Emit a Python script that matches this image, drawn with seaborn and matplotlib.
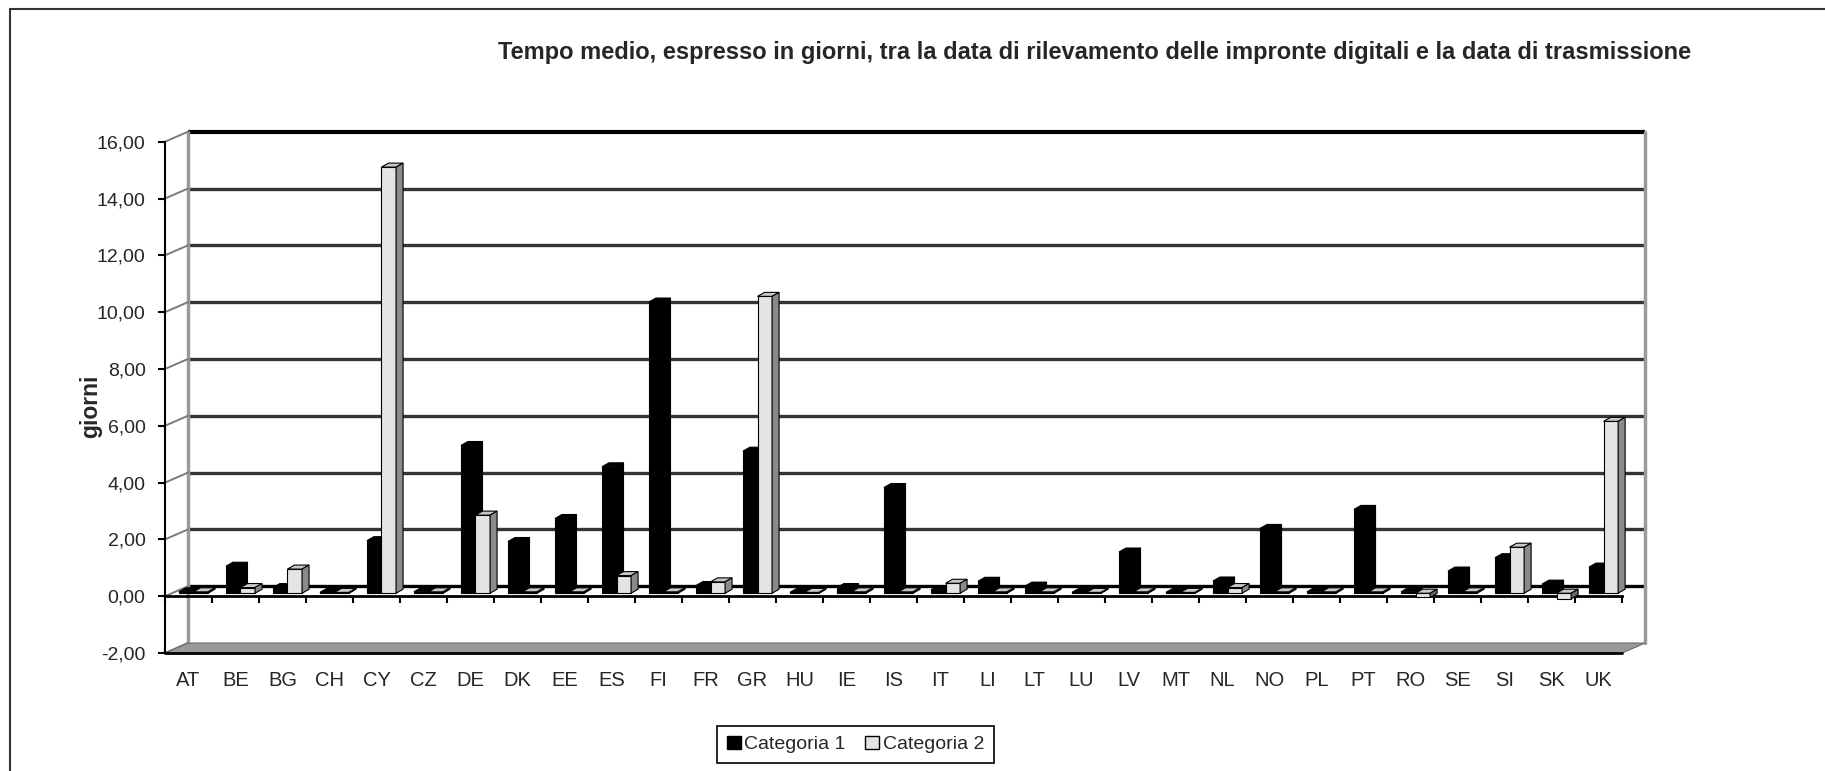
import numpy as np
import pandas as pd
import seaborn as sns
import matplotlib.pyplot as plt
import matplotlib.transforms as mtransforms
from matplotlib.patches import Polygon, Patch, Rectangle
from matplotlib.lines import Line2D

paesi = ['AT', 'BE', 'BG', 'CH', 'CY', 'CZ', 'DE', 'DK', 'EE', 'ES', 'FI',
         'FR', 'GR', 'HU', 'IE', 'IS', 'IT', 'LI', 'LT', 'LU', 'LV', 'MT',
         'NL', 'NO', 'PL', 'PT', 'RO', 'SE', 'SI', 'SK', 'UK']
categoria_1 = [0.05, 0.95, 0.20, 0.03, 1.85, 0.05, 5.20, 1.82, 2.63, 4.45, 10.25,
               0.27, 5.00, 0.03, 0.20, 3.72, 0.12, 0.42, 0.25, 0.03, 1.45, 0.03,
               0.43, 2.28, 0.05, 2.95, 0.05, 0.78, 1.25, 0.32, 0.92]
categoria_2 = [0.05, 0.20, 0.85, 0.03, 15.00, 0.05, 2.75, 0.05, 0.05, 0.62, 0.05,
               0.40, 10.45, 0.03, 0.05, 0.05, 0.35, 0.05, 0.05, 0.03, 0.05, 0.03,
               0.20, 0.05, 0.05, 0.05, -0.15, 0.05, 1.62, -0.20, 6.05]
serie = ['Categoria 1', 'Categoria 2']
tick_giorni = [-2, 0, 2, 4, 6, 8, 10, 12, 14, 16]
titolo = ('Tempo medio, espresso in giorni, tra la data di rilevamento '
          'delle impronte digitali e la data di trasmissione')

df = pd.DataFrame({
    'paese': paesi * 2,
    'serie': [serie[0]] * len(paesi) + [serie[1]] * len(paesi),
    'giorni': categoria_1 + categoria_2,
})

sns.set_style('white')
plt.rcParams['font.family'] = ['Liberation Sans', 'DejaVu Sans']

fig = plt.figure(figsize=(18.25, 7.71), dpi=100)
ax = fig.add_axes([0.0904, 0.1530, 0.7984, 0.6632])

colori = {serie[0]: 'black', serie[1]: '#e4e4e4'}
sns.barplot(data=df, x='paese', y='giorni', hue='serie', palette=colori,
            width=0.62, saturation=1, errorbar=None, edgecolor='black',
            linewidth=0.8, legend=False, ax=ax)
barre = [p for p in ax.patches if isinstance(p, Rectangle)]
ax.set_xlim(-0.5, len(paesi) - 0.5)
ax.set_ylim(-2, 16)

# pixel -> data units, for the fake 3d depth
xa, ya = ax.transData.transform((0, 0))
xb, yb = ax.transData.transform((1, 1))
px_x, px_y = 1 / (xb - xa), 1 / (yb - ya)
dx, dy = 23 * px_x, 10 * px_y          # depth of the walls
bdx, bdy = 7 * px_x, 4 * px_y          # depth of the bars
xl, xr = -0.5, len(paesi) - 0.5

# back wall, gridlines and floor
for g in tick_giorni[1:]:
    ax.plot([xl + dx, xr + dx], [g + dy, g + dy], clip_on=False, zorder=1,
            color='black' if g in (0, 16) else '#353535',
            lw=3 if g == 16 else 2.4, solid_capstyle='butt')
for xx in (xl + dx, xr + dx):
    ax.plot([xx, xx], [-2 + dy, 16 + dy], color='#9a9a9a', lw=2.5,
            clip_on=False, zorder=1)
for g in tick_giorni:
    ax.plot([xl, xl + dx], [g, g + dy], color='#7a7a7a', lw=1.4,
            clip_on=False, zorder=2)
ax.add_patch(Polygon([(xl, -2), (xr, -2), (xr + dx, -2 + dy), (xl + dx, -2 + dy)],
                     closed=True, facecolor='#9a9a9a', edgecolor='#6a6a6a',
                     lw=0.8, clip_on=False, zorder=2))
ax.plot([xl, xr], [-2, -2], color='black', lw=2, clip_on=False, zorder=3)

# bars: shift slightly into the depth and add top / side faces
spost = mtransforms.offset_copy(ax.transData, fig=fig, x=5, y=3, units='dots')
for i, bar in enumerate(barre):
    chiaro = i >= len(paesi)
    z = 6 if chiaro else 5
    bar.set_transform(spost)
    bar.set_zorder(z)
    bar.set_clip_on(False)
    x, w = bar.get_x(), bar.get_width()
    lo, hi = sorted([bar.get_y(), bar.get_y() + bar.get_height()])
    c_top, c_side = ('#c8c8c8', '#8a8a8a') if chiaro else ('black', 'black')
    top = Polygon([(x, hi), (x + w, hi), (x + w + bdx, hi + bdy), (x + bdx, hi + bdy)],
                  closed=True, facecolor=c_top, edgecolor='black', lw=0.8,
                  transform=spost, zorder=z, clip_on=False)
    side = Polygon([(x + w, lo), (x + w + bdx, lo + bdy), (x + w + bdx, hi + bdy), (x + w, hi)],
                   closed=True, facecolor=c_side, edgecolor='black', lw=0.8,
                   transform=spost, zorder=z, clip_on=False)
    if hi < 0.01:
        side.set_facecolor('#6a6a6a')
    ax.add_patch(top)
    ax.add_patch(side)

# axes
for s in ('top', 'right'):
    ax.spines[s].set_visible(False)
ax.spines['left'].set_color('black')
ax.spines['left'].set_linewidth(1.5)
ax.spines['bottom'].set_position(('data', 0))
ax.spines['bottom'].set_color('black')
ax.spines['bottom'].set_linewidth(2)
ax.spines['bottom'].set_zorder(4)

ax.set_yticks(tick_giorni, [f'{v:.2f}'.replace('.', ',') for v in tick_giorni])
ax.tick_params(axis='y', length=5, width=1.5, color='black', pad=9,
               labelsize=14, left=True, direction='out')
ax.set_xticks(range(len(paesi)), paesi)
ax.set_xticks(np.arange(xl, xr + 0.5, 1), minor=True)
ax.tick_params(axis='x', which='major', length=0, pad=54, labelsize=14.5)
ax.tick_params(axis='x', which='minor', length=5, width=1.5, color='black',
               bottom=True, direction='out')
ax.set_xlabel('')
ax.set_ylabel('giorni', fontweight='bold', fontsize=16.5)
ax.yaxis.set_label_coords(-0.043, 0.483)

fig.text(1095 / 1825, 1 - 53 / 771, titolo, ha='center', va='center',
         fontweight='bold', fontsize=17)

maniglie = [Patch(facecolor='black', edgecolor='black'),
            Patch(facecolor='#e4e4e4', edgecolor='black')]
leg = fig.legend(maniglie, serie, loc='center', ncol=2,
                 bbox_to_anchor=(855.5 / 1825, 1 - 744.5 / 771),
                 fontsize=14, frameon=True, fancybox=False, framealpha=1,
                 handlelength=0.7, handleheight=0.7, handletextpad=0.2,
                 columnspacing=1.0, borderpad=0.5)
leg.get_frame().set_edgecolor('black')
leg.get_frame().set_linewidth(1.2)

# outer chart frame (cut off at right and bottom)
fx, fy = 10 / 1825, 1 - 9 / 771
fig.add_artist(Line2D([fx, fx], [0, fy], transform=fig.transFigure,
                      color='#333333', lw=1.5))
fig.add_artist(Line2D([fx, 1], [fy, fy], transform=fig.transFigure,
                      color='#333333', lw=1.5))

fig.savefig('out.png', dpi=100)
plt.close(fig)
